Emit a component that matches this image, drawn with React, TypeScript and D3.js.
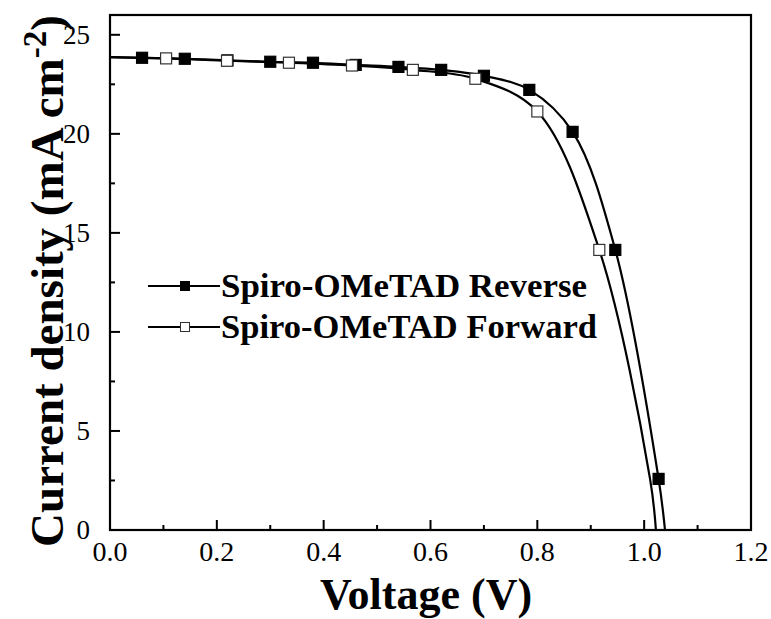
import React, { useEffect, useRef } from "react"
import * as d3 from "d3"

// J-V curves (voltage in V, current density in mA cm-2)
const reverseV = [0, 0.06, 0.14, 0.22, 0.3, 0.38, 0.46, 0.54, 0.62, 0.7, 0.785, 0.866, 0.946, 1.027, 1.039]
const reverseJ = [23.87, 23.84, 23.79, 23.71, 23.64, 23.59, 23.48, 23.38, 23.23, 22.93, 22.22, 20.1, 14.14, 2.58, 0]
const reverseMarkV = [0.06, 0.14, 0.22, 0.3, 0.38, 0.46, 0.54, 0.62, 0.7, 0.785, 0.866, 0.946, 1.027]
const reverseMarkJ = [23.84, 23.79, 23.71, 23.64, 23.59, 23.48, 23.38, 23.23, 22.93, 22.22, 20.1, 14.14, 2.58]

const forwardV = [0, 0.105, 0.219, 0.335, 0.453, 0.567, 0.684, 0.8, 0.916, 1.011, 1.022]
const forwardJ = [23.87, 23.81, 23.69, 23.59, 23.45, 23.23, 22.78, 21.13, 14.14, 2.58, 0]
const forwardMarkV = [0.105, 0.219, 0.335, 0.453, 0.567, 0.684, 0.8, 0.916]
const forwardMarkJ = [23.81, 23.69, 23.59, 23.45, 23.23, 22.78, 21.13, 14.14]

const xTicks = [0, 0.2, 0.4, 0.6, 0.8, 1.0, 1.2]
const xMinor = [0.1, 0.3, 0.5, 0.7, 0.9, 1.1]
const yTicks = [0, 5, 10, 15, 20, 25]
const yMinor = [2.5, 7.5, 12.5, 17.5, 22.5]
const legendNames = ["Spiro-OMeTAD Reverse", "Spiro-OMeTAD Forward"]

const FONT = "Liberation Serif, Times New Roman, serif"

function App() {
  const ref = useRef<SVGSVGElement>(null)

  useEffect(() => {
    const svg = d3.select(ref.current)
    svg.selectAll("*").remove()

    const x = d3.scaleLinear().domain([0, 1.2]).range([110, 751])
    const y = d3.scaleLinear().domain([0, 26]).range([530, 15])

    const line = d3
      .line<[number, number]>()
      .x(d => x(d[0]))
      .y(d => y(d[1]))
      .curve(d3.curveCatmullRom.alpha(0.5))

    const series = [
      { v: reverseV, j: reverseJ, mv: reverseMarkV, mj: reverseMarkJ, fill: "black" },
      { v: forwardV, j: forwardJ, mv: forwardMarkV, mj: forwardMarkJ, fill: "white" }
    ]

    const plot = svg.append("g")

    series.forEach(s => {
      const pts = s.v.map((v, i) => [v, s.j[i]] as [number, number])
      plot
        .append("path")
        .attr("d", line(pts))
        .attr("fill", "none")
        .attr("stroke", "black")
        .attr("stroke-width", 2.2)
    })

    // markers after both lines, open squares on top
    const ms = 11
    series.forEach(s => {
      plot
        .append("g")
        .selectAll("rect")
        .data(s.mv.map((v, i) => [v, s.mj[i]]))
        .join("rect")
        .attr("x", d => x(d[0]) - ms / 2)
        .attr("y", d => y(d[1]) - ms / 2)
        .attr("width", ms)
        .attr("height", ms)
        .attr("fill", s.fill)
        .attr("stroke", s.fill === "white" ? "#333" : "black")
        .attr("stroke-width", 1.2)
    })

    // frame
    svg
      .append("rect")
      .attr("x", 110)
      .attr("y", 15)
      .attr("width", 641)
      .attr("height", 515)
      .attr("fill", "none")
      .attr("stroke", "black")
      .attr("stroke-width", 2.2)

    // ticks point inward
    const axes = svg.append("g").attr("stroke", "black").attr("stroke-width", 2)
    axes
      .selectAll("line.xmaj")
      .data(xTicks)
      .join("line")
      .attr("x1", d => x(d))
      .attr("x2", d => x(d))
      .attr("y1", 530)
      .attr("y2", 520)
    axes
      .selectAll("line.xmin")
      .data(xMinor)
      .join("line")
      .attr("x1", d => x(d))
      .attr("x2", d => x(d))
      .attr("y1", 530)
      .attr("y2", 525)
    axes
      .selectAll("line.ymaj")
      .data(yTicks)
      .join("line")
      .attr("x1", 110)
      .attr("x2", 120)
      .attr("y1", d => y(d))
      .attr("y2", d => y(d))
    axes
      .selectAll("line.ymin")
      .data(yMinor)
      .join("line")
      .attr("x1", 110)
      .attr("x2", 115)
      .attr("y1", d => y(d))
      .attr("y2", d => y(d))

    const labels = svg.append("g").attr("font-family", FONT).attr("fill", "black")
    labels
      .selectAll("text.x")
      .data(xTicks)
      .join("text")
      .attr("x", d => x(d))
      .attr("y", 561)
      .attr("font-size", 28)
      .attr("text-anchor", "middle")
      .text(d => d.toFixed(1))
    labels
      .selectAll("text.y")
      .data(yTicks)
      .join("text")
      .attr("x", 90)
      .attr("y", d => y(d) + 9)
      .attr("font-size", 27)
      .attr("text-anchor", "end")
      .text(d => d)

    // axis titles
    svg
      .append("text")
      .attr("x", 426)
      .attr("y", 609)
      .attr("text-anchor", "middle")
      .attr("font-family", FONT)
      .attr("font-weight", "bold")
      .attr("font-size", 44)
      .text("Voltage (V)")

    const yt = svg
      .append("text")
      .attr("transform", "translate(63,281) rotate(-90)")
      .attr("text-anchor", "middle")
      .attr("font-family", FONT)
      .attr("font-weight", "bold")
      .attr("font-size", 47)
    yt.append("tspan").text("Current density (mA cm")
    yt.append("tspan").attr("dy", -17).attr("font-size", 33).text("-2")
    yt.append("tspan").attr("dy", 17).text(")")

    // legend
    const leg = svg.append("g")
    const legWidths = [366, 376]
    legendNames.forEach((name, i) => {
      const ly = 286 + i * 41
      const fill = i === 0 ? "black" : "white"
      leg
        .append("line")
        .attr("x1", 148)
        .attr("x2", 220)
        .attr("y1", ly)
        .attr("y2", ly)
        .attr("stroke", "black")
        .attr("stroke-width", 2)
      leg
        .append("rect")
        .attr("x", 185 - 4.5)
        .attr("y", ly - 4.5)
        .attr("width", 9)
        .attr("height", 9)
        .attr("fill", fill)
        .attr("stroke", i === 0 ? "black" : "#333")
        .attr("stroke-width", 1)
      leg
        .append("text")
        .attr("x", 221)
        .attr("y", ly + 11)
        .attr("font-family", FONT)
        .attr("font-weight", "bold")
        .attr("font-size", 33)
        .attr("textLength", legWidths[i])
        .attr("lengthAdjust", "spacingAndGlyphs")
        .text(name)
    })
  }, [])

  return (
    <svg
      ref={ref}
      width={771}
      height={619}
      style={{ position: "absolute", left: 0, top: 0, background: "white" }}
    />
  )
}

export default App
